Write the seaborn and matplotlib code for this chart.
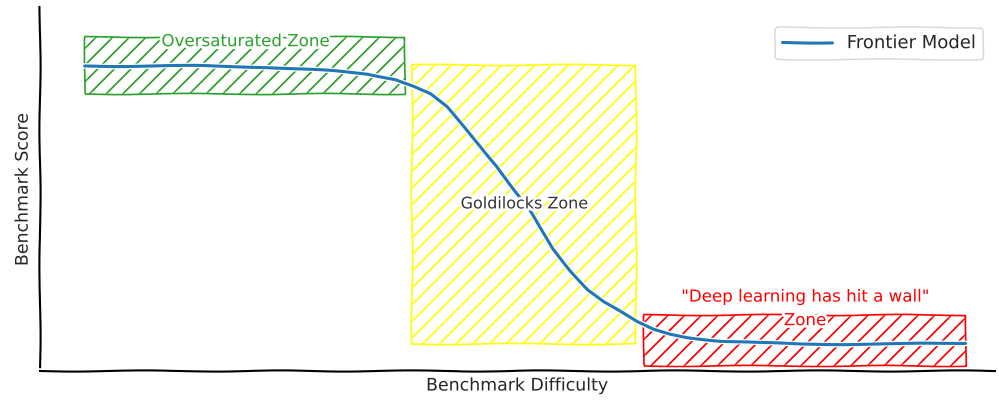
"""Sketch-style chart: benchmark score vs difficulty with three zones."""

import matplotlib

matplotlib.use("Agg")
import matplotlib.pyplot as plt
import pandas as pd
import seaborn as sns
from matplotlib.patches import Rectangle

# frontier model curve (x: difficulty, y: score)
difficulty = [4.7, 11.6, 16.8, 23.9, 30.8, 34.4, 37.4, 39.3, 41.1, 42.8, 44.5,
              46.3, 48.1, 49.8, 51.6, 52.6, 54.0, 55.8, 57.6, 59.3, 61.1, 62.8,
              64.5, 66.3, 68.1, 71.6, 75.8, 80.0, 85.3, 90.5, 97.4]
score = [83.8, 83.8, 83.8, 83.5, 82.4, 81.6, 80.2, 78.3, 76.1, 72.5, 67.3,
         61.8, 56.3, 50.0, 43.7, 39.3, 33.5, 27.7, 22.5, 19.0, 16.2, 13.5,
         11.5, 10.2, 9.3, 8.2, 7.7, 7.4, 7.4, 7.4, 7.7]

# zones: (x0, x1, y0, y1)
zone_names = ["Oversaturated Zone", "Goldilocks Zone",
              "\"Deep learning has hit a wall\"\nZone"]
zone_x0 = [4.7, 39.2, 63.6]
zone_x1 = [38.4, 62.7, 97.4]
zone_y0 = [76.1, 7.4, 1.4]
zone_y1 = [91.8, 84.1, 15.4]
zone_colors = ["#2ca02c", "yellow", "red"]
label_x = [21.6, 51.0, 80.5]
label_y = [90.6, 45.9, 17.2]
label_colors = ["#2ca02c", "#333333", "red"]
label_sizes = [12, 11.5, 12]


def main() -> None:
    sns.set_style("white")
    plt.xkcd(scale=0.6, length=150, randomness=2)
    plt.rcParams["font.family"] = ["DejaVu Sans"]

    fig = plt.figure(figsize=(9.99, 4.02), dpi=100)
    ax = fig.add_axes([40 / 999, 1 - 372 / 402, 955 / 999, 364 / 402])

    df = pd.DataFrame({"difficulty": difficulty, "score": score})
    sns.lineplot(data=df, x="difficulty", y="score", ax=ax, color="#1f77b4",
                 linewidth=2.2, label="Frontier Model")

    for x0, x1, y0, y1, c in zip(zone_x0, zone_x1, zone_y0, zone_y1, zone_colors):
        ax.add_patch(Rectangle((x0, y0), x1 - x0, y1 - y0, facecolor="none",
                               edgecolor=c, hatch="//", linewidth=1.2, zorder=1))

    for name, x, y, c, s in zip(zone_names, label_x, label_y, label_colors, label_sizes):
        ax.text(x, y, name, color=c, ha="center", va="center", fontsize=s,
                linespacing=1.4, zorder=3)

    ax.set_xlim(0, 100.5)
    ax.set_ylim(0, 100)
    ax.set_xticks([])
    ax.set_yticks([])
    ax.spines["top"].set_visible(False)
    ax.spines["right"].set_visible(False)
    ax.set_xlabel("Benchmark Difficulty", fontsize=12.5, labelpad=4)
    ax.set_ylabel("Benchmark Score", fontsize=12.5, labelpad=6)
    ax.legend(loc="upper right", fontsize=13, handlelength=2.8,
              bbox_to_anchor=(0.997, 0.97))

    fig.savefig("out.png", dpi=100)
    plt.close(fig)


if __name__ == "__main__":
    main()
